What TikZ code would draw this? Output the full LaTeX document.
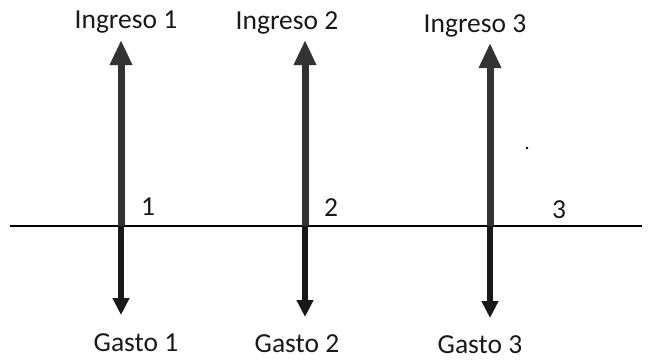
\documentclass[tikz,border=0pt]{standalone}
\usepackage{fontspec}
\setmainfont{Carlito}
\usetikzlibrary{arrows.meta}
\begin{document}
\begin{tikzpicture}[x=1pt,y=-1pt,
  lbl/.style={font=\fontsize{27.5}{30}\selectfont, inner sep=0pt, anchor=base, text=black!90},
  uparr/.style={line width=7pt, draw=black!80, -{Triangle[width=21pt,length=25pt]}},
  dnarr/.style={line width=5.5pt, draw=black!90, -{Triangle[width=16pt,length=17pt]}},
  axis/.style={line width=2pt, draw=black}]
\useasboundingbox (0,0) rectangle (656,360);
% axis
\coordinate (axL) at (10,226);
\coordinate (axR) at (642,226);
\draw[axis] (axL) -- (axR);
% bases and tips
\coordinate (b1) at (121,226);
\coordinate (b2) at (305,226);
\coordinate (b3) at (490,226);
\coordinate (u1) at (121,40);
\coordinate (u2) at (305,40);
\coordinate (u3) at (490,43);
\coordinate (d1) at (121,315);
\coordinate (d2) at (305,317);
\coordinate (d3) at (490,318);
\draw[uparr] (b1) -- (u1);
\draw[uparr] (b2) -- (u2);
\draw[uparr] (b3) -- (u3);
\draw[dnarr] (b1) -- (d1);
\draw[dnarr] (b2) -- (d2);
\draw[dnarr] (b3) -- (d3);
% labels
\node[lbl] (i1) at (126,28) {Ingreso 1};
\node[lbl] (i2) at (287,29) {Ingreso 2};
\node[lbl] (i3) at (475,32) {Ingreso 3};
\node[lbl] (g1) at (136,351) {Gasto 1};
\node[lbl] (g2) at (297,352) {Gasto 2};
\node[lbl] (g3) at (480,353) {Gasto 3};
\node[lbl] (n1) at (148,215) {1};
\node[lbl] (n2) at (331,216) {2};
\node[lbl] (n3) at (559,218) {3};
\fill[black] (527,148) circle (1.3pt);
\end{tikzpicture}
\end{document}
